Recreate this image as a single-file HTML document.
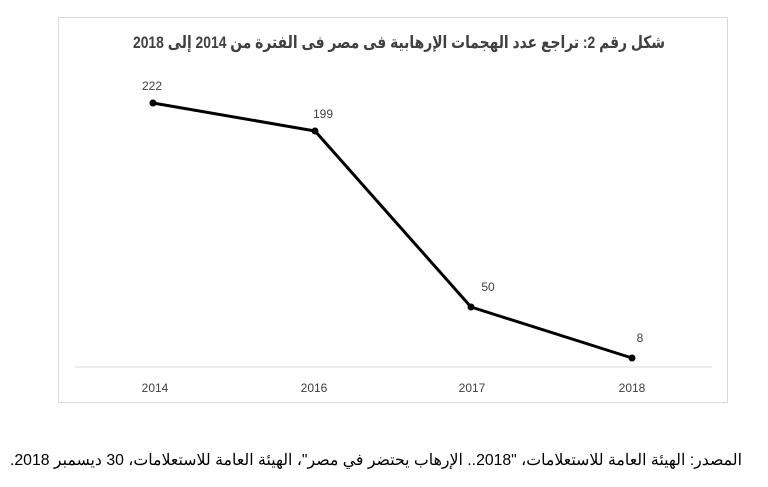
<!DOCTYPE html>
<html><head><meta charset="utf-8"><style>
body{margin:0;width:768px;height:487px;background:#fff;overflow:hidden;position:relative;font-family:"Liberation Sans","Noto Sans CJK SC",sans-serif}
.box{position:absolute;left:58px;top:17px;width:670px;height:386px;border:1px solid #d9d9d9;box-sizing:border-box}
</style></head><body>
<div class="box"></div>
<svg width="768" height="487" style="position:absolute;left:0;top:0">
<text x="665" y="48" text-anchor="start" font-size="17" font-weight="bold" fill="#404040" direction="rtl" textLength="532" lengthAdjust="spacingAndGlyphs" font-family="Liberation Sans, DejaVu Sans, sans-serif">شكل رقم 2: تراجع عدد الهجمات الإرهابية فى مصر فى الفترة من 2014 إلى 2018</text>
<line x1="75" y1="367" x2="712" y2="367" stroke="#d9d9d9" stroke-width="1"/>
<polyline points="153,103 315,131 471,307 632,358" fill="none" stroke="#000" stroke-width="3" stroke-linejoin="round"/>
<g fill="#000"><circle cx="153" cy="103" r="3.5"/><circle cx="315" cy="131" r="3.5"/><circle cx="471" cy="307" r="3.5"/><circle cx="632" cy="358" r="3.5"/></g>
<g font-size="12" fill="#404040" text-anchor="middle">
<text x="152" y="90">222</text><text x="323" y="118">199</text><text x="488" y="291">50</text><text x="640" y="342">8</text>
<text x="155" y="392">2014</text><text x="314" y="392">2016</text><text x="472" y="392">2017</text><text x="632" y="392">2018</text>
</g>
<text x="742" y="465" text-anchor="start" font-size="16" fill="#000" direction="rtl" textLength="732" lengthAdjust="spacingAndGlyphs">المصدر: الهيئة العامة للاستعلامات، "2018.. الإرهاب يحتضر في مصر"، الهيئة العامة للاستعلامات، 30 ديسمبر 2018.</text>
</svg>
</body></html>
